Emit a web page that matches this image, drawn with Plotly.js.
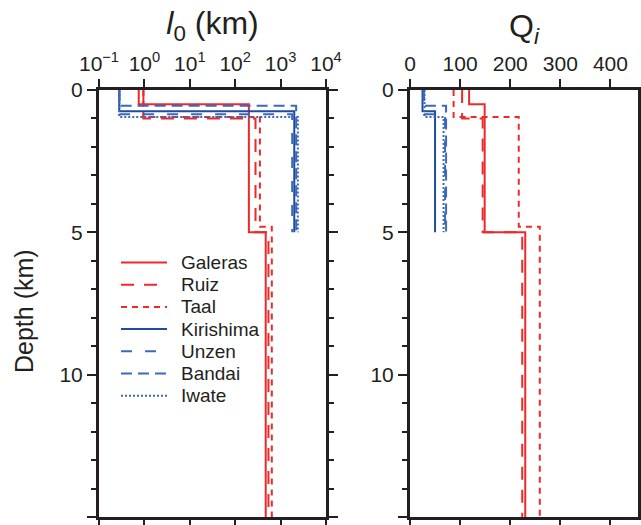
<!DOCTYPE html>
<html>
<head>
<meta charset="utf-8">
<script src="https://cdn.plot.ly/plotly-3.0.1.min.js"></script>
<style>html,body{margin:0;padding:0;background:#fff;}#chart{width:641px;height:525px;}</style>
</head>
<body>
<div id="chart"></div>
<script>
// ---- data ----
const volcanoes = ["Galeras", "Ruiz", "Taal", "Kirishima", "Unzen", "Bandai", "Iwate"];

// layer boundaries (depth, km)
const galerasDepth   = [0, 0.5, 5, 15];
const ruizDepth      = [0, 1.0, 5, 15];
const taalDepth      = [0, 0.95, 4.8, 15];
const kirishimaDepth = [0, 0.75, 5];
const unzenDepth     = [0, 0.85, 5];
const bandaiDepth    = [0, 0.55, 5];
const iwateDepth     = [0, 0.95, 5];

// l0 (km) per layer
const galerasL0   = [0.75, 200, 470];
const ruizL0      = [0.95, 280, 540];
const taalL0      = [0.95, 350, 640];
const kirishimaL0 = [0.28, 2000];
const unzenL0     = [0.28, 1800];
const bandaiL0    = [0.28, 2200];
const iwateL0     = [0.28, 2400];

// Qi per layer
const galerasQi   = [118, 149, 230];
const ruizQi      = [104, 145, 224];
const taalQi      = [87, 217, 259];
const kirishimaQi = [25, 50];
const unzenQi     = [28, 70];
const bandaiQi    = [27, 72];
const iwateQi     = [29, 67];

// tick labels
const l0TickVals = [0.1, 1, 10, 100, 1000, 10000];
const l0TickText = ["10<sup>−1</sup>", "10<sup>0</sup>", "10<sup>1</sup>", "10<sup>2</sup>", "10<sup>3</sup>", "10<sup>4</sup>"];
const qiTickVals = [0, 100, 200, 300, 400];
const depthTickVals = [0, 5, 10, 15];

// ---- styles ----
const RED = "#ec2a2a";
const BLUE_DARK = "#1f4c9f";
const BLUE = "#3b69bb";
const styles = {
  Galeras:   {color: RED, dash: "solid"},
  Ruiz:      {color: RED, dash: "13px,10px"},
  Taal:      {color: RED, dash: "6px,5px"},
  Kirishima: {color: BLUE_DARK, dash: "solid"},
  Unzen:     {color: BLUE, dash: "11px,13px"},
  Bandai:    {color: BLUE, dash: "11px,6px"},
  Iwate:     {color: BLUE, dash: "2px,2px"}
};

function steps(depths, vals) {
  const x = [], y = [];
  for (let i = 0; i < vals.length; i++) {
    x.push(vals[i], vals[i]);
    y.push(depths[i], depths[i + 1]);
  }
  return {x, y};
}

const models = [
  ["Galeras", galerasDepth, galerasL0, galerasQi],
  ["Ruiz", ruizDepth, ruizL0, ruizQi],
  ["Taal", taalDepth, taalL0, taalQi],
  ["Kirishima", kirishimaDepth, kirishimaL0, kirishimaQi],
  ["Unzen", unzenDepth, unzenL0, unzenQi],
  ["Bandai", bandaiDepth, bandaiL0, bandaiQi],
  ["Iwate", iwateDepth, iwateL0, iwateQi]
];

const traces = [];
models.forEach(([name, d, l0, qi]) => {
  const s = styles[name];
  const a = steps(d, l0);
  traces.push({x: a.x, y: a.y, xaxis: "x", yaxis: "y", mode: "lines", name: name,
    showlegend: false, line: {color: s.color, dash: s.dash, width: 2}});
});
models.forEach(([name, d, l0, qi]) => {
  const s = styles[name];
  const b = steps(d, qi);
  traces.push({x: b.x, y: b.y, xaxis: "x2", yaxis: "y2", mode: "lines", name: name,
    showlegend: false, line: {color: s.color, dash: s.dash, width: 2}});
});

const FONT = "Liberation Sans, Arial, Helvetica, sans-serif";
const INK = "#231f20";

// key (legend) drawn in paper space
const W = 641, H = 525;
const keyTop = 262.5, keyStep = 22.2, keyX0 = 121, keyX1 = 167, keyTextX = 179;
const shapes = [], annotations = [];
volcanoes.forEach((name, i) => {
  const s = styles[name];
  const yy = (H - (keyTop + i * keyStep)) / H;
  shapes.push({type: "line", xref: "paper", yref: "paper", x0: keyX0 / W, x1: keyX1 / W, y0: yy, y1: yy,
    line: {color: s.color, width: 2, dash: s.dash}});
  annotations.push({xref: "paper", yref: "paper", x: keyTextX / W, y: yy, xanchor: "left", yanchor: "middle",
    text: name, showarrow: false, font: {family: FONT, size: 19, color: INK}});
});
// y-axis title
annotations.push({xref: "paper", yref: "paper", x: 24 / W, y: (H - 311) / H, xanchor: "center", yanchor: "middle",
  text: "Depth (km)", textangle: -90, showarrow: false, font: {family: FONT, size: 25, color: INK}});

const frame = {
  showline: true, linewidth: 3, linecolor: INK, mirror: "allticks",
  ticks: "outside", tickwidth: 2, tickcolor: INK, showgrid: false, zeroline: false,
  tickfont: {family: FONT, size: 21, color: INK}
};
const yd = [8 / H, 435 / H];

const layout = {
  width: W, height: H,
  margin: {l: 0, r: 0, t: 0, b: 0},
  paper_bgcolor: "#fff", plot_bgcolor: "#fff",
  font: {family: FONT, color: INK},
  showlegend: false,
  shapes: shapes,
  annotations: annotations,
  xaxis: Object.assign({}, frame, {
    type: "log", domain: [99 / W, 326 / W], range: [-1, 4], side: "top", anchor: "y",
    tickmode: "array", tickvals: l0TickVals, ticktext: l0TickText, ticklen: 8,
    title: {text: "<i>l</i><sub>0</sub> (km)", font: {family: FONT, size: 32}, standoff: 5}
  }),
  yaxis: Object.assign({}, frame, {
    domain: yd, range: [15, 0], anchor: "x",
    tickmode: "array", tickvals: depthTickVals, ticklen: 9,
    minor: {dtick: 1, ticklen: 5, tickwidth: 2, ticks: "outside", tickcolor: INK, showgrid: false}
  }),
  xaxis2: Object.assign({}, frame, {
    domain: [410 / W, 638 / W], range: [0, 455], side: "top", anchor: "y2",
    tickmode: "array", tickvals: qiTickVals, ticklen: 8,
    title: {text: "Q<sub><i>i</i></sub>", font: {family: FONT, size: 32}, standoff: 5}
  }),
  yaxis2: Object.assign({}, frame, {
    domain: yd, range: [15, 0], anchor: "x2",
    tickmode: "array", tickvals: depthTickVals, ticklen: 9,
    minor: {dtick: 1, ticklen: 5, tickwidth: 2, ticks: "outside", tickcolor: INK, showgrid: false}
  })
};

Plotly.newPlot("chart", traces, layout, {displayModeBar: false, staticPlot: true});
</script>
</body>
</html>
